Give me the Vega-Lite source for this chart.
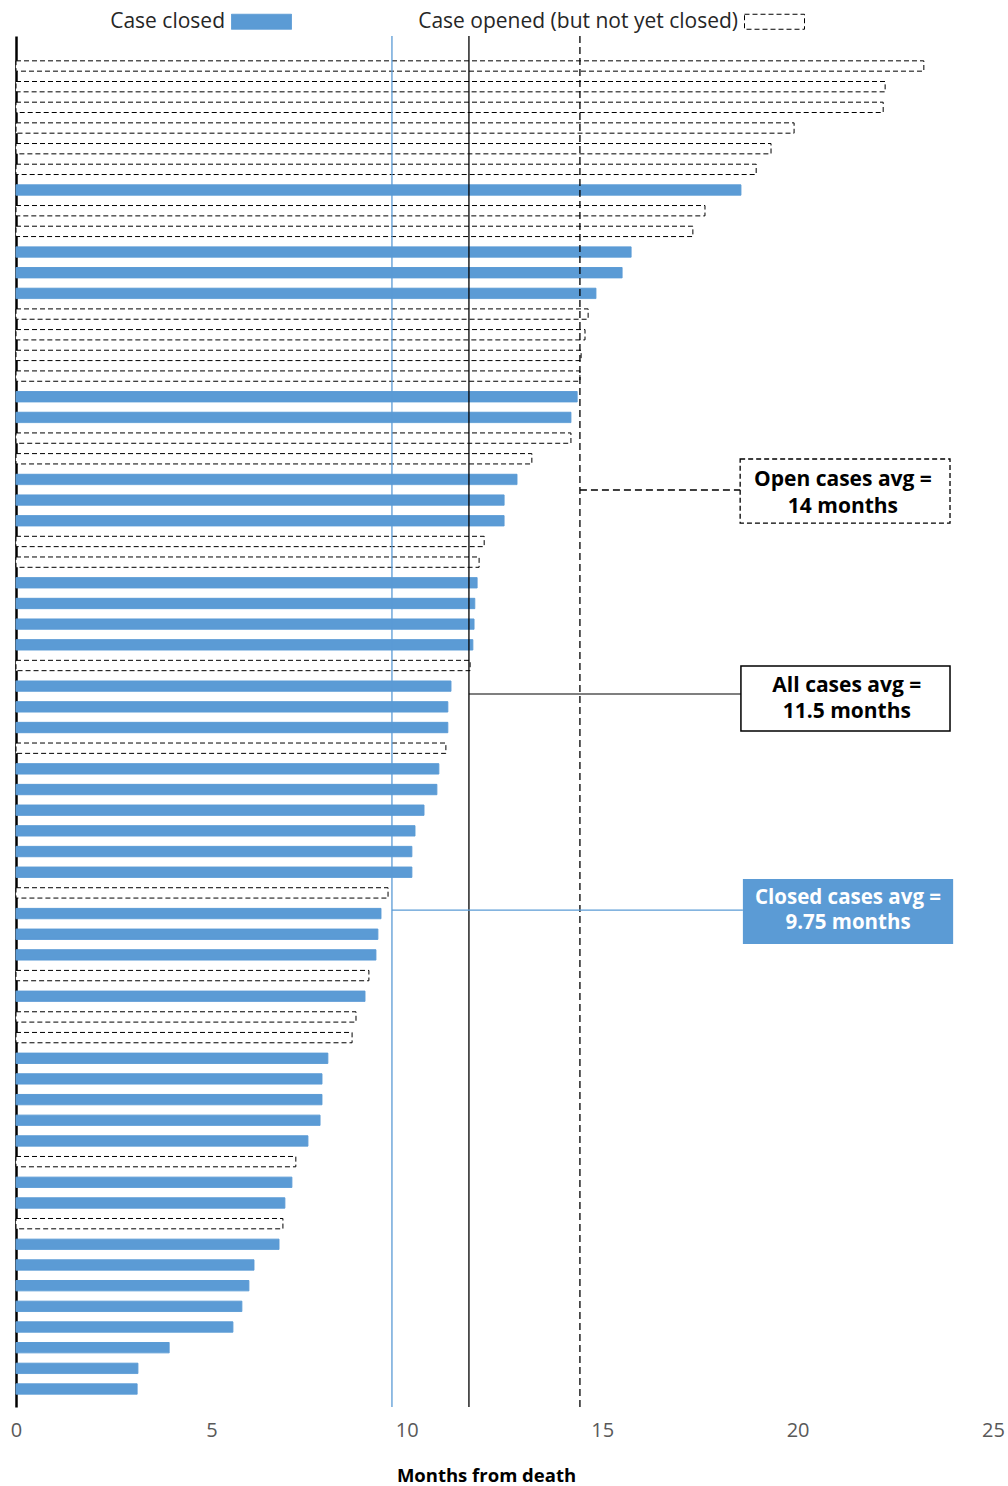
{
  "$schema": "https://vega.github.io/schema/vega-lite/v6.json",
  "width": 977,
  "height": 1371,
  "autosize": {"type": "none"},
  "padding": {"left": 16, "top": 36, "right": 15, "bottom": 79},
  "background": "white",
  "config": {"view": {"stroke": null}, "font": "Open Sans"},
  "datasets": {
    "cases": [
      {"id": 1, "months": 23.23, "status": "Case opened (but not yet closed)"},
      {"id": 2, "months": 22.24, "status": "Case opened (but not yet closed)"},
      {"id": 3, "months": 22.19, "status": "Case opened (but not yet closed)"},
      {"id": 4, "months": 19.91, "status": "Case opened (but not yet closed)"},
      {"id": 5, "months": 19.32, "status": "Case opened (but not yet closed)"},
      {"id": 6, "months": 18.94, "status": "Case opened (but not yet closed)"},
      {"id": 7, "months": 18.55, "status": "Case closed"},
      {"id": 8, "months": 17.63, "status": "Case opened (but not yet closed)"},
      {"id": 9, "months": 17.32, "status": "Case opened (but not yet closed)"},
      {"id": 10, "months": 15.74, "status": "Case closed"},
      {"id": 11, "months": 15.51, "status": "Case closed"},
      {"id": 12, "months": 14.84, "status": "Case closed"},
      {"id": 13, "months": 14.64, "status": "Case opened (but not yet closed)"},
      {"id": 14, "months": 14.56, "status": "Case opened (but not yet closed)"},
      {"id": 15, "months": 14.46, "status": "Case opened (but not yet closed)"},
      {"id": 16, "months": 14.43, "status": "Case opened (but not yet closed)"},
      {"id": 17, "months": 14.36, "status": "Case closed"},
      {"id": 18, "months": 14.2, "status": "Case closed"},
      {"id": 19, "months": 14.2, "status": "Case opened (but not yet closed)"},
      {"id": 20, "months": 13.2, "status": "Case opened (but not yet closed)"},
      {"id": 21, "months": 12.82, "status": "Case closed"},
      {"id": 22, "months": 12.49, "status": "Case closed"},
      {"id": 23, "months": 12.49, "status": "Case closed"},
      {"id": 24, "months": 11.98, "status": "Case opened (but not yet closed)"},
      {"id": 25, "months": 11.85, "status": "Case opened (but not yet closed)"},
      {"id": 26, "months": 11.8, "status": "Case closed"},
      {"id": 27, "months": 11.74, "status": "Case closed"},
      {"id": 28, "months": 11.72, "status": "Case closed"},
      {"id": 29, "months": 11.69, "status": "Case closed"},
      {"id": 30, "months": 11.62, "status": "Case opened (but not yet closed)"},
      {"id": 31, "months": 11.13, "status": "Case closed"},
      {"id": 32, "months": 11.05, "status": "Case closed"},
      {"id": 33, "months": 11.05, "status": "Case closed"},
      {"id": 34, "months": 11.0, "status": "Case opened (but not yet closed)"},
      {"id": 35, "months": 10.82, "status": "Case closed"},
      {"id": 36, "months": 10.77, "status": "Case closed"},
      {"id": 37, "months": 10.44, "status": "Case closed"},
      {"id": 38, "months": 10.21, "status": "Case closed"},
      {"id": 39, "months": 10.13, "status": "Case closed"},
      {"id": 40, "months": 10.13, "status": "Case closed"},
      {"id": 41, "months": 9.52, "status": "Case opened (but not yet closed)"},
      {"id": 42, "months": 9.34, "status": "Case closed"},
      {"id": 43, "months": 9.26, "status": "Case closed"},
      {"id": 44, "months": 9.21, "status": "Case closed"},
      {"id": 45, "months": 9.03, "status": "Case opened (but not yet closed)"},
      {"id": 46, "months": 8.93, "status": "Case closed"},
      {"id": 47, "months": 8.7, "status": "Case opened (but not yet closed)"},
      {"id": 48, "months": 8.6, "status": "Case opened (but not yet closed)"},
      {"id": 49, "months": 7.98, "status": "Case closed"},
      {"id": 50, "months": 7.83, "status": "Case closed"},
      {"id": 51, "months": 7.83, "status": "Case closed"},
      {"id": 52, "months": 7.78, "status": "Case closed"},
      {"id": 53, "months": 7.47, "status": "Case closed"},
      {"id": 54, "months": 7.16, "status": "Case opened (but not yet closed)"},
      {"id": 55, "months": 7.06, "status": "Case closed"},
      {"id": 56, "months": 6.88, "status": "Case closed"},
      {"id": 57, "months": 6.83, "status": "Case opened (but not yet closed)"},
      {"id": 58, "months": 6.73, "status": "Case closed"},
      {"id": 59, "months": 6.09, "status": "Case closed"},
      {"id": 60, "months": 5.96, "status": "Case closed"},
      {"id": 61, "months": 5.78, "status": "Case closed"},
      {"id": 62, "months": 5.55, "status": "Case closed"},
      {"id": 63, "months": 3.92, "status": "Case closed"},
      {"id": 64, "months": 3.12, "status": "Case closed"},
      {"id": 65, "months": 3.1, "status": "Case closed"}
    ]
  },
  "layer": [
    {
      "data": {"name": "cases"},
      "mark": {"type": "bar", "strokeWidth": 1},
      "encoding": {
        "y": {
          "field": "id",
          "type": "ordinal",
          "scale": {"paddingInner": 0.5, "paddingOuter": 0.91, "align": 0.66},
          "axis": {"labels": false, "ticks": false, "title": null, "grid": false, "domainColor": "#000000", "domainWidth": 2.5}
        },
        "x": {
          "field": "months",
          "type": "quantitative",
          "scale": {"domain": [0, 25], "nice": false},
          "axis": {
            "values": [0, 5, 10, 15, 20, 25],
            "domain": false,
            "ticks": false,
            "grid": false,
            "labelFlush": false,
            "labelFontSize": 20,
            "labelColor": "#595959",
            "labelPadding": 13,
            "title": "Months from death",
            "titleFontSize": 18.5,
            "titleFontWeight": "bold",
            "titleColor": "#000000",
            "titleX": 470,
            "titleY": 68,
            "titleBaseline": "middle"
          }
        },
        "fill": {
          "field": "status",
          "type": "nominal",
          "scale": {"domain": ["Case closed", "Case opened (but not yet closed)"], "range": ["#5B9BD5", "#FFFFFF"]},
          "legend": {"title": null, "orient": "none", "legendX": 230, "legendY": -30, "direction": "horizontal", "symbolType": "M-2,-0.5H2V0.5H-2Z", "symbolSize": 900, "symbolStrokeWidth": 1, "labelAlign": "right", "labelOffset": -52, "labelFontSize": 21, "labelColor": "#262626", "labelLimit": 0, "columnPadding": 124}
        },
        "stroke": {
          "field": "status",
          "type": "nominal",
          "scale": {"domain": ["Case closed", "Case opened (but not yet closed)"], "range": ["#5B9BD5", "#000000"]},
          "legend": {"title": null, "orient": "none", "legendX": 230, "legendY": -30, "direction": "horizontal", "symbolType": "M-2,-0.5H2V0.5H-2Z", "symbolSize": 900, "symbolStrokeWidth": 1, "labelAlign": "right", "labelOffset": -52, "labelFontSize": 21, "labelColor": "#262626", "labelLimit": 0, "columnPadding": 124}
        },
        "strokeDash": {
          "field": "status",
          "type": "nominal",
          "scale": {"domain": ["Case closed", "Case opened (but not yet closed)"], "range": [[1, 0], [5, 3]]},
          "legend": {"title": null, "orient": "none", "legendX": 230, "legendY": -30, "direction": "horizontal", "symbolType": "M-2,-0.5H2V0.5H-2Z", "symbolSize": 900, "symbolStrokeWidth": 1, "labelAlign": "right", "labelOffset": -52, "labelFontSize": 21, "labelColor": "#262626", "labelLimit": 0, "columnPadding": 124}
        }
      }
    },
    {
      "data": {"values": [{"avg": 9.62}]},
      "mark": {"type": "rule", "color": "#5B9BD5", "strokeWidth": 1.3},
      "encoding": {"x": {"field": "avg", "type": "quantitative"}}
    },
    {
      "data": {"values": [{"avg": 11.59}]},
      "mark": {"type": "rule", "color": "#000000", "strokeWidth": 1.3},
      "encoding": {"x": {"field": "avg", "type": "quantitative"}}
    },
    {
      "data": {"values": [{"avg": 14.43}]},
      "mark": {"type": "rule", "color": "#000000", "strokeWidth": 1.3, "strokeDash": [7, 4]},
      "encoding": {"x": {"field": "avg", "type": "quantitative"}}
    },
    {
      "data": {"values": [{"x1": 18.53, "x2": 23.9, "y1": 19.01, "y2": 22.11, "cx": 21.16, "lx": 14.43, "ly": 20.51, "t1": "Open cases avg =", "t2": "14 months", "ty1": 20.03, "ty2": 21.33}]},
      "layer": [
        {
          "mark": {"type": "rule", "color": "#000000", "strokeWidth": 1.3, "strokeDash": [7, 4]},
          "encoding": {
            "x": {"field": "lx", "type": "quantitative"},
            "x2": {"field": "x1"},
            "y": {"field": "ly", "type": "quantitative", "scale": {"domain": [-1.4512, 64.87], "reverse": true, "nice": false, "zero": false}, "axis": null}
          }
        },
        {
          "mark": {"type": "rect", "fill": "#FFFFFF", "stroke": "#000000", "strokeWidth": 1.3, "strokeDash": [5, 3]},
          "encoding": {
            "x": {"field": "x1", "type": "quantitative"},
            "x2": {"field": "x2"},
            "y": {"field": "y1", "type": "quantitative", "scale": {"domain": [-1.4512, 64.87], "reverse": true, "nice": false, "zero": false}, "axis": null},
            "y2": {"field": "y2"}
          }
        },
        {
          "mark": {"type": "text", "fontWeight": "bold", "fontSize": 21, "color": "#000000"},
          "encoding": {
            "x": {"field": "cx", "type": "quantitative"},
            "y": {"field": "ty1", "type": "quantitative", "scale": {"domain": [-1.4512, 64.87], "reverse": true, "nice": false, "zero": false}, "axis": null},
            "text": {"field": "t1"}
          }
        },
        {
          "mark": {"type": "text", "fontWeight": "bold", "fontSize": 21, "color": "#000000"},
          "encoding": {
            "x": {"field": "cx", "type": "quantitative"},
            "y": {"field": "ty2", "type": "quantitative", "scale": {"domain": [-1.4512, 64.87], "reverse": true, "nice": false, "zero": false}, "axis": null},
            "text": {"field": "t2"}
          }
        }
      ]
    },
    {
      "data": {"values": [{"x1": 18.55, "x2": 23.9, "y1": 29.02, "y2": 32.17, "cx": 21.26, "lx": 11.59, "ly": 30.38, "t1": "All cases avg =", "t2": "11.5 months", "ty1": 29.99, "ty2": 31.25}]},
      "layer": [
        {
          "mark": {"type": "rule", "color": "#000000", "strokeWidth": 1.2},
          "encoding": {
            "x": {"field": "lx", "type": "quantitative"},
            "x2": {"field": "x1"},
            "y": {"field": "ly", "type": "quantitative", "scale": {"domain": [-1.4512, 64.87], "reverse": true, "nice": false, "zero": false}, "axis": null}
          }
        },
        {
          "mark": {"type": "rect", "fill": "#FFFFFF", "stroke": "#000000", "strokeWidth": 1.5},
          "encoding": {
            "x": {"field": "x1", "type": "quantitative"},
            "x2": {"field": "x2"},
            "y": {"field": "y1", "type": "quantitative", "scale": {"domain": [-1.4512, 64.87], "reverse": true, "nice": false, "zero": false}, "axis": null},
            "y2": {"field": "y2"}
          }
        },
        {
          "mark": {"type": "text", "fontWeight": "bold", "fontSize": 21, "color": "#000000"},
          "encoding": {
            "x": {"field": "cx", "type": "quantitative"},
            "y": {"field": "ty1", "type": "quantitative", "scale": {"domain": [-1.4512, 64.87], "reverse": true, "nice": false, "zero": false}, "axis": null},
            "text": {"field": "t1"}
          }
        },
        {
          "mark": {"type": "text", "fontWeight": "bold", "fontSize": 21, "color": "#000000"},
          "encoding": {
            "x": {"field": "cx", "type": "quantitative"},
            "y": {"field": "ty2", "type": "quantitative", "scale": {"domain": [-1.4512, 64.87], "reverse": true, "nice": false, "zero": false}, "axis": null},
            "text": {"field": "t2"}
          }
        }
      ]
    },
    {
      "data": {"values": [{"x1": 18.6, "x2": 23.98, "y1": 39.33, "y2": 42.47, "cx": 21.29, "lx": 9.62, "ly": 40.83, "t1": "Closed cases avg =", "t2": "9.75 months", "ty1": 40.25, "ty2": 41.46}]},
      "layer": [
        {
          "mark": {"type": "rule", "color": "#5B9BD5", "strokeWidth": 1.2},
          "encoding": {
            "x": {"field": "lx", "type": "quantitative"},
            "x2": {"field": "x1"},
            "y": {"field": "ly", "type": "quantitative", "scale": {"domain": [-1.4512, 64.87], "reverse": true, "nice": false, "zero": false}, "axis": null}
          }
        },
        {
          "mark": {"type": "rect", "fill": "#5B9BD5"},
          "encoding": {
            "x": {"field": "x1", "type": "quantitative"},
            "x2": {"field": "x2"},
            "y": {"field": "y1", "type": "quantitative", "scale": {"domain": [-1.4512, 64.87], "reverse": true, "nice": false, "zero": false}, "axis": null},
            "y2": {"field": "y2"}
          }
        },
        {
          "mark": {"type": "text", "fontWeight": "bold", "fontSize": 20.5, "color": "#FFFFFF"},
          "encoding": {
            "x": {"field": "cx", "type": "quantitative"},
            "y": {"field": "ty1", "type": "quantitative", "scale": {"domain": [-1.4512, 64.87], "reverse": true, "nice": false, "zero": false}, "axis": null},
            "text": {"field": "t1"}
          }
        },
        {
          "mark": {"type": "text", "fontWeight": "bold", "fontSize": 20.5, "color": "#FFFFFF"},
          "encoding": {
            "x": {"field": "cx", "type": "quantitative"},
            "y": {"field": "ty2", "type": "quantitative", "scale": {"domain": [-1.4512, 64.87], "reverse": true, "nice": false, "zero": false}, "axis": null},
            "text": {"field": "t2"}
          }
        }
      ]
    }
  ],
  "resolve": {"scale": {"y": "independent"}}
}
